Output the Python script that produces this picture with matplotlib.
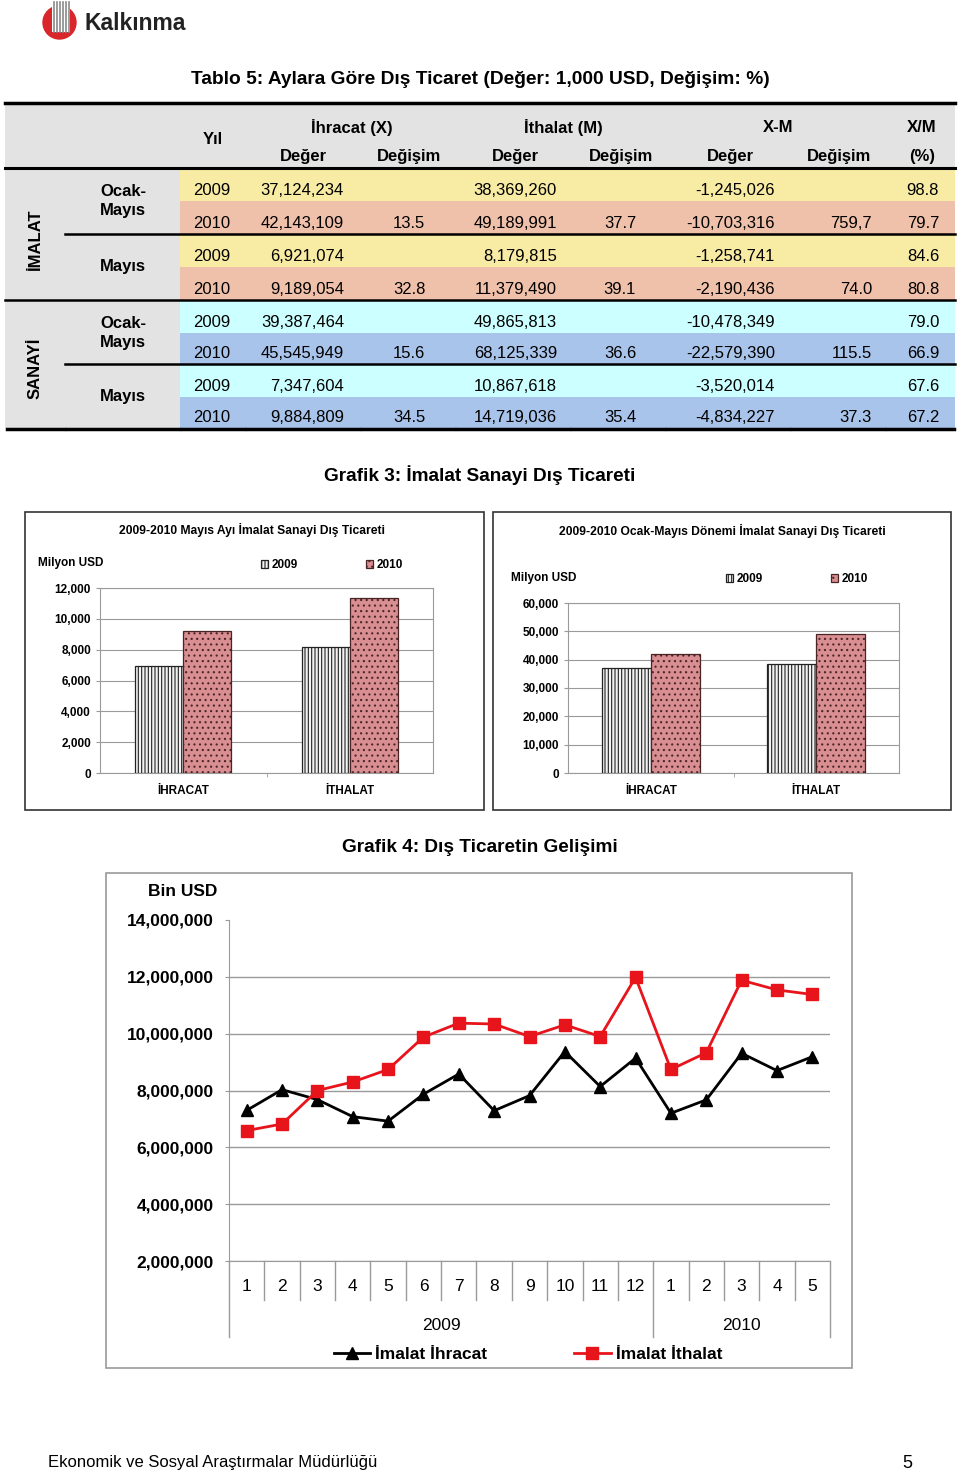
import matplotlib
matplotlib.use('Agg')
import matplotlib.pyplot as plt
import matplotlib.transforms as mtransforms
from matplotlib.patches import Rectangle, Circle
from matplotlib.ticker import FuncFormatter

plt.rcParams['font.family'] = ['Liberation Sans', 'DejaVu Sans']
plt.rcParams['hatch.linewidth'] = 0.8

# --- tablo 5 verileri (1,000 USD) ---
sektorler = ['İMALAT', 'SANAYİ']
yillar = ['2009', '2010', '2009', '2010', '2009', '2010', '2009', '2010']
ihr_deger = ['37,124,234', '42,143,109', '6,921,074', '9,189,054',
             '39,387,464', '45,545,949', '7,347,604', '9,884,809']
ihr_degisim = ['', '13.5', '', '32.8', '', '15.6', '', '34.5']
ith_deger = ['38,369,260', '49,189,991', '8,179,815', '11,379,490',
             '49,865,813', '68,125,339', '10,867,618', '14,719,036']
ith_degisim = ['', '37.7', '', '39.1', '', '36.6', '', '35.4']
xm_deger = ['-1,245,026', '-10,703,316', '-1,258,741', '-2,190,436',
            '-10,478,349', '-22,579,390', '-3,520,014', '-4,834,227']
xm_degisim = ['', '759,7', '', '74.0', '', '115.5', '', '37.3']
xm_oran = ['98.8', '79.7', '84.6', '80.8', '79.0', '66.9', '67.6', '67.2']

# --- grafik 3 verileri (milyon USD) ---
kategoriler = ['İHRACAT', 'İTHALAT']
mayis_2009 = [6921, 8180]
mayis_2010 = [9189, 11379]
ocak_mayis_2009 = [37124, 38369]
ocak_mayis_2010 = [42143, 49190]

# --- grafik 4 verileri (bin USD) ---
aylar = ['1', '2', '3', '4', '5', '6', '7', '8', '9', '10', '11', '12',
         '1', '2', '3', '4', '5']
imalat_ihracat = [7300000, 8030000, 7680000, 7080000, 6921074, 7870000, 8580000,
                  7290000, 7820000, 9370000, 8140000, 9140000,
                  7200000, 7670000, 9310000, 8700000, 9189054]
imalat_ithalat = [6590000, 6820000, 8000000, 8300000, 8740000, 9880000, 10370000,
                  10340000, 9900000, 10310000, 9900000, 11980000,
                  8740000, 9330000, 11880000, 11540000, 11379490]

W, H = 960, 1476
fig = plt.figure(figsize=(9.6, 14.76), dpi=100)
page = fig.add_axes([0, 0, 1, 1])
page.set_xlim(0, W)
page.set_ylim(H, 0)
page.axis('off')


def box(x0, y0, x1, y1):
    return [x0 / W, 1 - y1 / H, (x1 - x0) / W, (y1 - y0) / H]


# logo
page.add_patch(Circle((59.5, 22.5), 16.5, color='#d9262b'))
page.add_patch(Rectangle((52, 2), 18, 30, fc='white', ec='none'))
for k in range(6):
    page.plot([53.5 + k * 3, 53.5 + k * 3], [2, 32], color='#8a8a8a', lw=1.2)
page.text(84, 23, 'Kalkınma', fontsize=16.5, fontweight='bold', color='#222222',
          va='center', ha='left')

# tablo
page.text(480, 80, 'Tablo 5: Aylara Göre Dış Ticaret (Değer: 1,000 USD, Değişim: %)',
          fontsize=13.8, fontweight='bold', ha='center', va='center')
gri = '#e3e3e3'
page.add_patch(Rectangle((5, 103), 950, 65, fc=gri, ec='none'))
page.add_patch(Rectangle((5, 168), 175, 260, fc=gri, ec='none'))
satir = [169, 201, 234, 267, 300, 333, 364, 397, 428]
renkler = ['#f8eba4', '#f0c1aa', '#f8eba4', '#f0c1aa',
           '#ccffff', '#a9c4ea', '#ccffff', '#a9c4ea']
for i in range(8):
    page.add_patch(Rectangle((180, satir[i]), 775, satir[i + 1] - satir[i],
                             fc=renkler[i], ec='none'))

baslik = dict(fontsize=12, fontweight='bold', ha='center', va='center')
page.text(213, 140, 'Yıl', **baslik)
page.text(352, 127, 'İhracat (X)', **baslik)
page.text(563, 127, 'İthalat (M)', **baslik)
page.text(778, 127, 'X-M', **baslik)
page.text(922, 127, 'X/M', **baslik)
for xc, s in [(303, 'Değer'), (409, 'Değişim'), (515, 'Değer'), (621, 'Değişim'),
              (730, 'Değer'), (839, 'Değişim'), (922, '(%)')]:
    page.text(xc, 157, s, **baslik)

page.text(35, 239, sektorler[0], rotation=90, **baslik)
page.text(35, 368, sektorler[1], rotation=90, **baslik)
donem = dict(fontsize=12, fontweight='bold', ha='left', va='center')
for y0 in [191, 323]:
    page.text(100, y0, 'Ocak-', **donem)
    page.text(100, y0 + 19, 'Mayıs', **donem)
page.text(100, 267, 'Mayıs', **donem)
page.text(100, 396, 'Mayıs', **donem)

hucre = dict(fontsize=12, va='center')
for i in range(8):
    yc = satir[i + 1] - 10.5
    page.text(193, yc, yillar[i], ha='left', **hucre)
    page.text(344, yc, ihr_deger[i], ha='right', **hucre)
    page.text(409, yc, ihr_degisim[i], ha='center', **hucre)
    page.text(557, yc, ith_deger[i], ha='right', **hucre)
    page.text(620, yc, ith_degisim[i], ha='center', **hucre)
    page.text(775, yc, xm_deger[i], ha='right', **hucre)
    page.text(872, yc, xm_degisim[i], ha='right', **hucre)
    page.text(939, yc, xm_oran[i], ha='right', **hucre)

page.plot([5, 955], [103, 103], color='black', lw=2.5)
page.plot([5, 955], [168, 168], color='black', lw=2.2)
page.plot([65, 955], [234, 234], color='black', lw=1.8)
page.plot([5, 955], [300, 300], color='black', lw=1.8)
page.plot([65, 955], [364, 364], color='black', lw=1.8)
kenar = [5, 65, 180, 245, 360, 455, 570, 665, 790, 885, 955]
for a, b in zip(kenar[:-1], kenar[1:]):
    page.plot([a + 1.5, b - 1.5], [429, 429], color='black', lw=2.5)

# grafik 3
page.text(480, 475, 'Grafik 3: İmalat Sanayi Dış Ticareti', fontsize=13.7,
          fontweight='bold', ha='center', va='center')
page.add_patch(Rectangle((25, 512), 459, 298, fill=False, ec='#333333', lw=1.2))
page.add_patch(Rectangle((493, 512), 458, 298, fill=False, ec='#333333', lw=1.2))


def bar_chart(rect, v09, v10, ymax, step, w, title, tx, ty, ux, uy, lx, ly):
    ax = fig.add_axes(rect)
    ax.set_facecolor('none')
    pos = range(len(kategoriler))
    b1 = ax.bar([p - w / 2 for p in pos], v09, width=w, color='#f2f2f2', edgecolor='#222222',
                hatch='|||||', lw=0.9, zorder=3)
    b2 = ax.bar([p + w / 2 for p in pos], v10, width=w, color='#d98f92', edgecolor='#4a2526',
                hatch='...', lw=0.9, zorder=3)
    ax.set_xlim(-0.5, 1.5)
    ax.set_ylim(0, ymax)
    ax.set_yticks(range(0, ymax + 1, step))
    ax.yaxis.set_major_formatter(FuncFormatter(lambda v, p: f'{v:,.0f}'))
    ax.yaxis.grid(True, color='#9a9a9a', lw=0.8)
    ax.set_axisbelow(True)
    for s in ax.spines.values():
        s.set_color('#9a9a9a')
    ax.tick_params(axis='y', labelsize=8.5, length=3, color='#9a9a9a', pad=3.5)
    ax.set_xticks(list(pos))
    ax.set_xticklabels(kategoriler)
    ax.set_xticks([0.5], minor=True)
    ax.tick_params(axis='x', which='major', length=0, labelsize=8.5, pad=8.5)
    ax.tick_params(axis='x', which='minor', length=3, color='#9a9a9a')
    for t in ax.get_xticklabels() + ax.get_yticklabels():
        t.set_fontweight('bold')
    fig.text(tx / W, 1 - ty / H, title, fontsize=8.7, fontweight='bold', ha='center', va='center')
    fig.text(ux / W, 1 - uy / H, 'Milyon USD', fontsize=8.5, fontweight='bold',
             ha='left', va='center')
    ax.legend([b1, b2], ['2009', '2010'], loc='center', ncol=2, frameon=False,
              bbox_to_anchor=(lx / W, 1 - ly / H), bbox_transform=fig.transFigure,
              prop={'weight': 'bold', 'size': 8.5}, handlelength=0.6, handleheight=0.6,
              handletextpad=0.3, columnspacing=5.8)
    return ax


bar_chart(box(100, 588, 433, 773), mayis_2009, mayis_2010, 12000, 2000, 0.288,
          '2009-2010 Mayıs Ayı İmalat Sanayi Dış Ticareti', 252, 530, 38, 563, 332, 565)
bar_chart(box(568, 603, 899, 773), ocak_mayis_2009, ocak_mayis_2010, 60000, 10000, 0.296,
          '2009-2010 Ocak-Mayıs Dönemi İmalat Sanayi Dış Ticareti', 722, 531, 511, 578, 797, 579)

# grafik 4
page.text(480, 847, 'Grafik 4: Dış Ticaretin Gelişimi', fontsize=13.7,
          fontweight='bold', ha='center', va='center')
page.add_patch(Rectangle((106, 873), 746, 495, fill=False, ec='#9a9a9a', lw=1.2))
page.text(183, 892, 'Bin USD', fontsize=12.5, fontweight='bold', ha='center', va='center')

ax3 = fig.add_axes(box(229, 920, 830, 1261))
ax3.set_facecolor('none')
xs = list(range(len(aylar)))
ax3.plot(xs, imalat_ihracat, color='black', lw=2, marker='^', ms=9, label='İmalat İhracat',
         zorder=4)
ax3.plot(xs, imalat_ithalat, color='#e8141b', lw=2, marker='s', ms=8, label='İmalat İthalat',
         zorder=4)
ax3.set_xlim(-0.5, 16.5)
ax3.set_ylim(2000000, 14000000)
ax3.set_yticks(range(2000000, 14000001, 2000000))
ax3.yaxis.set_major_formatter(FuncFormatter(lambda v, p: f'{v:,.0f}'))
ax3.yaxis.grid(True, color='#9a9a9a', lw=1)
ax3.set_axisbelow(True)
gl = ax3.get_ygridlines()
gl[-1].set_visible(False)
ax3.spines['top'].set_visible(False)
ax3.spines['right'].set_visible(False)
ax3.spines['left'].set_color('#9a9a9a')
ax3.spines['bottom'].set_color('#9a9a9a')
ax3.tick_params(axis='y', labelsize=12.5, length=3, color='#9a9a9a', pad=8)
ax3.set_xticks(xs)
ax3.set_xticklabels(aylar)
ax3.tick_params(axis='x', length=0, labelsize=12.5, pad=13)
for t in ax3.get_yticklabels():
    t.set_fontweight('bold')

tr = mtransforms.blended_transform_factory(ax3.transData, ax3.transAxes)
for k in range(len(aylar) + 1):
    xb = k - 0.5
    alt = -0.223 if k in (0, 12, 17) else -0.114
    ax3.plot([xb, xb], [0, alt], transform=tr, clip_on=False, color='#9a9a9a', lw=1)
ax3.text(5.5, -0.188, '2009', transform=tr, fontsize=12.5, ha='center', va='center')
ax3.text(14, -0.188, '2010', transform=tr, fontsize=12.5, ha='center', va='center')
ax3.legend(loc='center', ncol=2, frameon=False, bbox_to_anchor=(528 / W, 1 - 1354 / H),
           bbox_transform=fig.transFigure, prop={'weight': 'bold', 'size': 12.5},
           handlelength=2.1, handletextpad=0.3, columnspacing=5)

# alt bilgi
page.text(48, 1463, 'Ekonomik ve Sosyal Araştırmalar Müdürlüğü', fontsize=12,
          ha='left', va='center')
page.text(907, 1464, '5', fontsize=13, ha='center', va='center')

fig.savefig('out.png', dpi=100)
